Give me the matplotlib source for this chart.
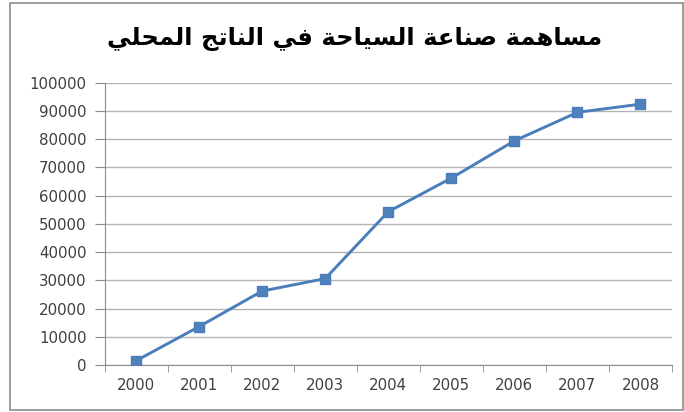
import matplotlib
matplotlib.use("Agg")
import matplotlib.pyplot as plt
from matplotlib.patches import Rectangle

# ── data ──────────────────────────────────────────────────────────────────────
years = ["2000", "2001", "2002", "2003", "2004", "2005", "2006", "2007", "2008"]
values = [1500, 13600, 26200, 30600, 54300, 66200, 79400, 89500, 92400]
y_ticks = [0, 10000, 20000, 30000, 40000, 50000, 60000, 70000, 80000,
           90000, 100000]
title = "مساهمة صناعة السياحة في الناتج المحلي"

# ── minimal arabic shaping (matplotlib has no complex text layout) ────────────
# isolated, final, initial, medial presentation forms
FORMS = {
    "ا": (0xFE8D, 0xFE8E, None, None),
    "ة": (0xFE93, 0xFE94, None, None),
    "ت": (0xFE95, 0xFE96, 0xFE97, 0xFE98),
    "ج": (0xFE9D, 0xFE9E, 0xFE9F, 0xFEA0),
    "ح": (0xFEA1, 0xFEA2, 0xFEA3, 0xFEA4),
    "س": (0xFEB1, 0xFEB2, 0xFEB3, 0xFEB4),
    "ص": (0xFEB9, 0xFEBA, 0xFEBB, 0xFEBC),
    "ع": (0xFEC9, 0xFECA, 0xFECB, 0xFECC),
    "ف": (0xFED1, 0xFED2, 0xFED3, 0xFED4),
    "ل": (0xFEDD, 0xFEDE, 0xFEDF, 0xFEE0),
    "م": (0xFEE1, 0xFEE2, 0xFEE3, 0xFEE4),
    "ن": (0xFEE5, 0xFEE6, 0xFEE7, 0xFEE8),
    "ه": (0xFEE9, 0xFEEA, 0xFEEB, 0xFEEC),
    "ي": (0xFEF1, 0xFEF2, 0xFEF3, 0xFEF4),
}


def shape_arabic(text):
    out = []
    for i, ch in enumerate(text):
        if ch not in FORMS:
            out.append(ch)
            continue
        prev = text[i - 1] if i > 0 else ""
        nxt = text[i + 1] if i + 1 < len(text) else ""
        iso, fin, ini, med = FORMS[ch]
        joins_prev = prev in FORMS and FORMS[prev][2] is not None
        joins_next = ini is not None and nxt in FORMS
        if joins_prev and joins_next:
            code = med
        elif joins_prev:
            code = fin
        elif joins_next:
            code = ini
        else:
            code = iso
        out.append(chr(code))
    return "".join(reversed(out))


# ── figure ────────────────────────────────────────────────────────────────────
W, H = 684, 412
fig = plt.figure(figsize=(W / 100, H / 100), dpi=100)
fig.patch.set_facecolor("white")

# outer chart border
fig.patches.append(Rectangle((10 / W, 2 / H), 673 / W, 407 / H,
                             transform=fig.transFigure, fill=False,
                             edgecolor="#8c8c8c", linewidth=1.2))

ax = fig.add_axes([104.5 / W, 47 / H, (672 - 104.5) / W, (365 - 82.7) / H])

x = list(range(len(years)))
ax.plot(x, values, color="#4a7ebb", linewidth=2.1, marker="s",
        markersize=6.5, markerfacecolor="#4f81bd",
        markeredgecolor="#4a7ebb", zorder=3)

ax.set_xlim(-0.5, len(years) - 0.5)
ax.set_ylim(0, 100000)
ax.set_yticks(y_ticks)
ax.set_yticklabels([str(v) for v in y_ticks])
ax.set_xticks(x)
ax.set_xticklabels(years)
# tick marks sit between categories, like a spreadsheet chart
ax.set_xticks([i - 0.5 for i in range(len(years) + 1)], minor=True)
ax.tick_params(axis="x", which="major", length=0, pad=9)
ax.tick_params(axis="x", which="minor", length=5, color="#8c8c8c",
               direction="out")
ax.tick_params(axis="y", length=7, color="#8c8c8c", pad=6)
ax.tick_params(labelsize=10.8, labelcolor="#404040")

ax.grid(axis="y", color="#b4b4b4", linewidth=1)
ax.set_axisbelow(True)
for side in ["top", "right"]:
    ax.spines[side].set_visible(False)
for side in ["left", "bottom"]:
    ax.spines[side].set_color("#8c8c8c")

fig.text(0.519, 0.905, shape_arabic(title), ha="center", va="center",
         fontsize=17.5, fontweight="bold", family=["DejaVu Sans"])

fig.savefig("out.png", dpi=100)
